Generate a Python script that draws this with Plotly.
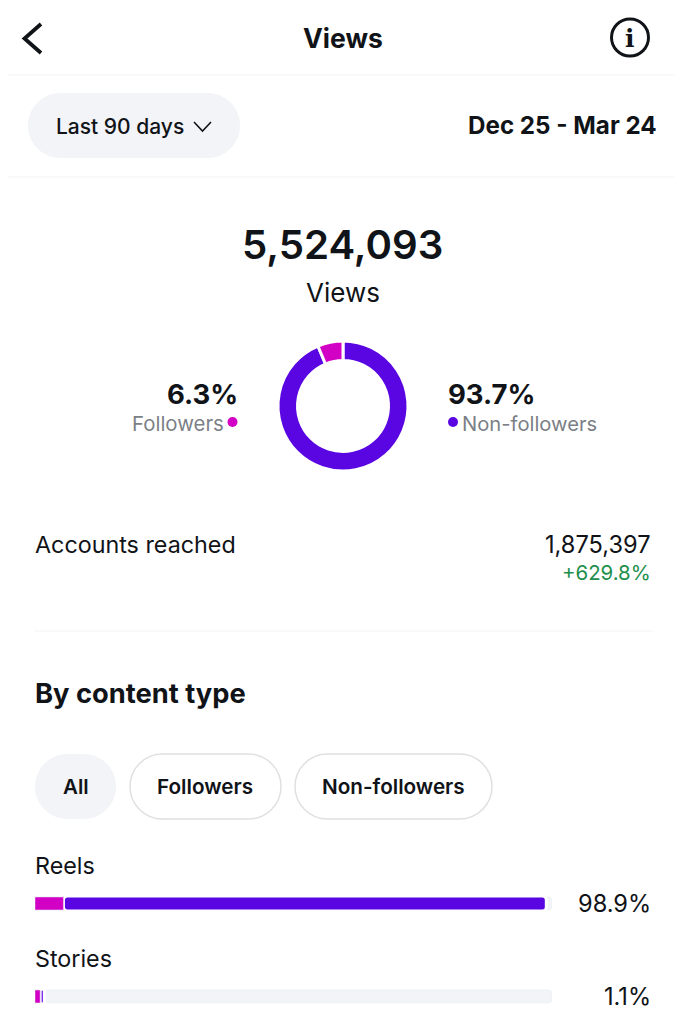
import plotly.graph_objects as go

W, H = 683, 1024
FONT = "Inter"
INK = "#101317"
GREY = "#7b7f86"
MAGENTA = "#d100c4"
PURPLE = "#5a06e2"
TRACK = "#f2f4f7"
PILL = "#f2f4f7"

share_labels = ["Non-followers", "Followers"]
share_values = [93.7, 6.3]
share_colors = [PURPLE, MAGENTA]

content_types = ["Reels", "Stories"]
content_total = [98.9, 1.1]
content_followers = [5.5, 1.0]
content_non_followers = [93.4, 0.8]
track_values = [100, 100]


def fx(p):
    return p / W


def fy(p):
    return 1 - p / H


def pill(x0, y0, x1, y1, fill="rgba(0,0,0,0)", line=None):
    r = (y1 - y0) / 2
    a, b, c, d = fx(x0), fx(x1), fy(y0), fy(y1)
    rx, ry = r / W, r / H
    k = 0.5523
    path = (
        f"M{a+rx},{c} L{b-rx},{c} C{b-rx+k*rx},{c} {b},{c-ry+k*ry} {b},{c-ry} "
        f"C{b},{c-ry-k*ry} {b-rx+k*rx},{d} {b-rx},{d} L{a+rx},{d} "
        f"C{a+rx-k*rx},{d} {a},{c-ry-k*ry} {a},{c-ry} C{a},{c-ry+k*ry} {a+rx-k*rx},{c} {a+rx},{c} Z"
    )
    return dict(type="path", xref="paper", yref="paper", path=path, fillcolor=fill,
                line=dict(color=line or "rgba(0,0,0,0)", width=1.5 if line else 0), layer="below")


def hline(x0, x1, y, color="#f3f3f5"):
    return dict(type="line", xref="paper", yref="paper", x0=fx(x0), x1=fx(x1), y0=fy(y), y1=fy(y),
                line=dict(color=color, width=1.2), layer="below")


def polyline(points, color, width):
    path = "M" + " L".join(f"{fx(x)},{fy(y)}" for x, y in points)
    return dict(type="path", xref="paper", yref="paper", path=path, line=dict(color=color, width=width))


def circle(cx, cy, r, fill="rgba(0,0,0,0)", line=None, width=0):
    return dict(type="circle", xref="paper", yref="paper", x0=fx(cx - r), x1=fx(cx + r), y0=fy(cy + r), y1=fy(cy - r),
                fillcolor=fill, line=dict(color=line or "rgba(0,0,0,0)", width=width))


def label(text, x, y, size, color=INK, anchor="left", weight=400, family=FONT):
    nudge = {"left": -1.5, "right": 1.5, "center": 0}[anchor]
    return dict(text=text, xref="paper", yref="paper", x=fx(x + nudge), y=fy(y), xanchor=anchor, yanchor="middle",
                showarrow=False, borderpad=0, font=dict(family=family, size=size, color=color, weight=weight))


fig = go.Figure()

fig.add_trace(go.Pie(
    labels=share_labels, values=share_values, sort=False, direction="clockwise", rotation=0, hole=0.7,
    marker=dict(colors=share_colors, line=dict(color="white", width=3)),
    textinfo="none", showlegend=False, hoverinfo="label+percent",
    domain=dict(x=[fx(343 - 65), fx(343 + 65)], y=[fy(406 + 65), fy(406 - 65)]),
))

fig.add_trace(go.Bar(y=content_types, x=track_values, orientation="h", width=0.14, marker=dict(color=TRACK),
                     showlegend=False, hoverinfo="skip"))
fig.add_trace(go.Bar(y=content_types, x=content_non_followers, base=content_followers, orientation="h", width=0.16,
                     name="Non-followers", marker=dict(color=PURPLE, line=dict(color="white", width=3)),
                     showlegend=False))
fig.add_trace(go.Bar(y=content_types, x=content_followers, orientation="h", width=0.14, name="Followers",
                     marker=dict(color=MAGENTA), showlegend=False))

axis_off = dict(visible=False, fixedrange=True)
fig.update_layout(
    width=W, height=H, margin=dict(l=0, r=0, t=0, b=0, pad=0), autosize=False,
    paper_bgcolor="white", plot_bgcolor="rgba(0,0,0,0)",
    barmode="overlay", barcornerradius=4,
    xaxis=dict(domain=[fx(35), fx(552)], range=[0, 100], **axis_off),
    yaxis=dict(domain=[0, fy(880)], range=[1.2957, -0.2527], type="category", categoryorder="array",
               categoryarray=content_types, **axis_off),
    shapes=[
        hline(8, 675, 75), hline(8, 675, 177), hline(35, 652, 631),
        pill(28, 93, 240, 158, fill=PILL),
        pill(35, 754, 116, 819, fill=PILL),
        pill(130, 754, 281, 819, line="#dfe0e2"),
        pill(295, 754, 492, 819, line="#dfe0e2"),
        polyline([(41, 24), (24.5, 38.5), (41, 53)], INK, 3.8),
        polyline([(194, 122), (202.5, 131), (211, 122)], INK, 1.6),
        circle(630, 37.5, 18.5, line=INK, width=3),
        circle(232.5, 422, 5, fill=MAGENTA),
        circle(453, 422, 5, fill=PURPLE),
    ],
    annotations=[
        label("Views", 343, 38, 26.5, anchor="center", weight=700),
        label("<b>i</b>", 630, 38, 25, anchor="center", family="DejaVu Serif"),
        label("Last 90 days", 56, 126, 21, weight=500),
        label("Dec 25 - Mar 24", 656, 125, 24.2, anchor="right", weight=700),
        label("5,524,093", 342.5, 244, 40.2, anchor="center", weight=600),
        label("Views", 343, 292, 26, anchor="center"),
        label("6.3%", 237, 394, 27.5, anchor="right", weight=700),
        label("Followers", 223, 423, 20.4, color=GREY, anchor="right"),
        label("93.7%", 448, 394, 27.5, weight=700),
        label("Non-followers", 462, 423, 20.2, color=GREY),
        label("Accounts reached", 35, 544, 23.3),
        label("1,875,397", 650, 544.5, 23.6, anchor="right"),
        label("+629.8%", 650, 572.5, 20.4, color="#1f8f4d", anchor="right"),
        label("By content type", 35, 693.5, 27.3, weight=700),
        label("All", 75.5, 786.5, 20.5, anchor="center", weight=600),
        label("Followers", 205, 786.5, 20.7, anchor="center", weight=600),
        label("Non-followers", 393.5, 786.5, 20.7, anchor="center", weight=600),
        label(content_types[0], 35, 865, 23.3),
        label(content_types[1], 35, 958, 23.3),
        label(f"{content_total[0]}%", 650, 903.5, 23.6, anchor="right"),
        label(f"{content_total[1]}%", 650, 996.5, 23.6, anchor="right"),
    ],
)

fig.write_html("out.html", config=dict(displayModeBar=False),
               post_script="document.body.style.margin='0';document.documentElement.style.overflow='hidden';")
